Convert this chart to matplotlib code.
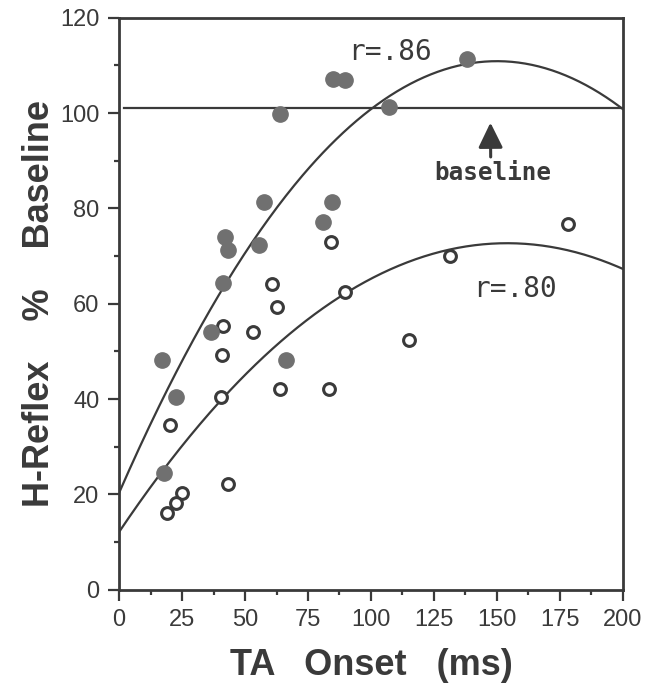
import matplotlib
matplotlib.use("Agg")
import matplotlib.pyplot as plt
import numpy as np
from matplotlib.ticker import MultipleLocator

# filled circles (upper group)
filled_x = [17.0, 22.5, 18.0, 42.2, 43.2, 41.4, 36.6, 57.6, 55.6, 63.9, 66.1,
            80.8, 84.6, 84.9, 89.6, 107.2, 138.0]
filled_y = [48.3, 40.4, 24.5, 74.0, 71.2, 64.3, 54.1, 81.4, 72.4, 99.9, 48.2,
            77.1, 81.3, 107.1, 107.0, 101.2, 111.4]

# open circles (lower group)
open_x = [60.8, 62.8, 41.2, 53.1, 41.0, 63.9, 40.4, 20.1, 43.3, 25.0, 22.8,
          19.2, 84.0, 89.5, 131.4, 115.2, 178.3, 83.4]
open_y = [64.1, 59.3, 55.3, 54.1, 49.3, 42.1, 40.4, 34.5, 22.1, 20.3, 18.1,
          16.2, 73.0, 62.4, 70.0, 52.3, 76.8, 42.2]

# quadratic fits (c2, c1, c0)
upper_fit = [-0.004027, 1.208, 20.3]
lower_fit = [-0.002555, 0.787, 12.1]
upper_r = "r=.86"
lower_r = "r=.80"

baseline = 101
x_ticks = [0, 25, 50, 75, 100, 125, 150, 175, 200]
y_ticks = [0, 20, 40, 60, 80, 100, 120]

ink = "#3a3a3a"
dot = "#707070"

plt.rcParams["font.family"] = ["Liberation Sans", "DejaVu Sans"]

fig = plt.figure(figsize=(6.55, 6.83), dpi=100)
ax = fig.add_axes([0.1817, 0.1365, 0.7694, 0.8375])

curve_x = np.linspace(0, 200, 300)
ax.plot(curve_x, np.polyval(upper_fit, curve_x), color=ink, lw=1.6, zorder=2)
ax.plot(curve_x, np.polyval(lower_fit, curve_x), color=ink, lw=1.6, zorder=2)
ax.axhline(baseline, xmin=0.01, xmax=1, color=ink, lw=1.6, zorder=2)

ax.plot(open_x, open_y, "o", ms=8.5, mfc="white", mec=ink, mew=2.2,
        linestyle="none", zorder=3)
ax.plot(filled_x, filled_y, "o", ms=11, mfc=dot, mec=dot,
        linestyle="none", zorder=4)

ax.text(107.6, 112.9, upper_r, ha="center", va="center", fontsize=20,
        family="DejaVu Sans Mono", color=ink)
ax.text(157.3, 63.1, lower_r, ha="center", va="center", fontsize=20,
        family="DejaVu Sans Mono", color=ink)
ax.text(148.3, 87.5, "baseline", ha="center", va="center", fontsize=17.5,
        family="DejaVu Sans Mono", fontweight="bold", color=ink)
ax.annotate("", xy=(147.4, 98.0), xytext=(147.5, 90.8),
            arrowprops=dict(arrowstyle="-|>,head_length=0.45,head_width=0.22",
                            mutation_scale=34, color=ink, lw=2.2,
                            shrinkA=0, shrinkB=0))

ax.set_xlim(0, 200)
ax.set_ylim(0, 120)
ax.set_xticks(x_ticks)
ax.set_yticks(y_ticks)
ax.xaxis.set_minor_locator(MultipleLocator(12.5))
ax.yaxis.set_minor_locator(MultipleLocator(10))
ax.tick_params(which="major", direction="out", length=8, width=1.6,
               color=ink, labelcolor=ink, labelsize=17, pad=6)
ax.tick_params(which="minor", direction="out", length=3.5, width=1.6, color=ink)
for side in ax.spines.values():
    side.set_linewidth(2)
    side.set_color(ink)

ax.set_xlabel("TA   Onset   (ms)", fontsize=26, fontweight="bold",
              color=ink, labelpad=12)
ax.set_ylabel("H-Reflex    %    Baseline", fontsize=26, fontweight="bold",
              color=ink, labelpad=2)

fig.savefig("out.png", dpi=100)
